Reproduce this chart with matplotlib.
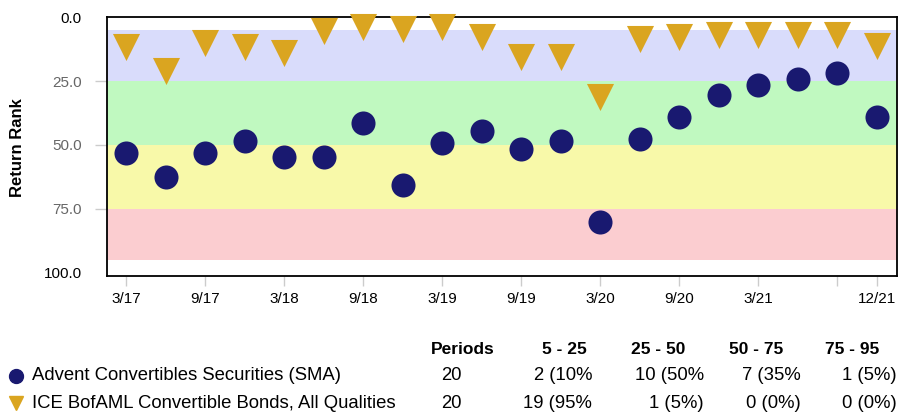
import matplotlib
matplotlib.use("Agg")
import matplotlib.pyplot as plt

plt.rcParams['font.family'] = ['Liberation Sans', 'DejaVu Sans']

# quarterly return ranks, 3/17 .. 12/21
quarters = ["3/17", "6/17", "9/17", "12/17", "3/18", "6/18", "9/18", "12/18",
            "3/19", "6/19", "9/19", "12/19", "3/20", "6/20", "9/20", "12/20",
            "3/21", "6/21", "9/21", "12/21"]
fund_rank = [53.1, 62.5, 53.1, 48.4, 54.7, 54.7, 41.4, 65.5, 49.2, 44.5,
             51.6, 48.4, 80.2, 47.6, 39.1, 30.6, 26.7, 24.3, 22.0, 39.1]
index_rank = [11.7, 20.9, 10.1, 11.7, 14.0, 5.4, 3.9, 4.7, 3.9, 7.8,
              15.6, 15.6, 31.2, 8.6, 7.8, 7.0, 7.0, 7.0, 7.0, 11.1]

# tick labels (every other quarter, last one 12/21)
tick_idx = [0, 2, 4, 6, 8, 10, 12, 14, 16, 18, 19]
tick_labels = ["3/17", "9/17", "3/18", "9/18", "3/19", "9/19", "3/20",
               "9/20", "3/21", "", "12/21"]

bands = [(5, 25, "#D9DCFB"), (25, 50, "#C0F9C0"),
         (50, 75, "#F8F9A9"), (75, 95, "#FBCDD0")]

series_names = ["Advent Convertibles Securities (SMA)",
                "ICE BofAML Convertible Bonds, All Qualities"]
col_headers = ["Periods", "5 - 25", "25 - 50", "50 - 75", "75 - 95"]
periods = ["20", "20"]
table_rows = [["2 (10%", "10 (50%", "7 (35%", "1 (5%)"],
              ["19 (95%", "1 (5%)", "0 (0%)", "0 (0%)"]]

W, H = 898, 413
fig = plt.figure(figsize=(W / 100, H / 100), dpi=100)


def fx(x):
    return x / W


def fy(y):
    return 1 - y / H


ax = fig.add_axes([fx(106.7), fy(276), fx(896.7) - fx(106.7), fy(17.3) - fy(276)])

for lo, hi, c in bands:
    ax.axhspan(lo, hi, color=c, lw=0, zorder=0)

x = list(range(len(quarters)))
ax.scatter(x, fund_rank, s=300, marker='o', color='#191970', lw=0, zorder=3,
           clip_on=False)
ax.scatter(x, index_rank, s=380, marker='v', color='#DAA520', lw=0, zorder=3,
           clip_on=False)

ax.set_xlim(-0.5, 19.5)
ax.set_ylim(101.3, 0)

ax.set_xticks(tick_idx)
ax.set_xticklabels(tick_labels, fontsize=11)
ax.tick_params(axis='x', direction='out', length=7.5, width=1, color='#CCCCCC',
               pad=4)

ax.set_yticks([0, 25, 50, 75, 100])
ax.set_yticklabels(["0.0", "25.0", "50.0", "75.0", "100.0"], fontsize=11)
ax.tick_params(axis='y', direction='out', length=9, width=1, color='#CCCCCC',
               pad=9)
for i, lab in enumerate(ax.get_yticklabels()):
    lab.set_color('black' if i in (0, 4) else '#666666')
for i, tl in enumerate(ax.yaxis.get_major_ticks()):
    if i in (0, 4):
        tl.tick1line.set_visible(False)

for sp in ax.spines.values():
    sp.set_linewidth(1.3)
    sp.set_color('black')

fig.text(fx(18), fy(147.5), "Return Rank", rotation=90, fontsize=12,
         fontweight='bold', ha='center', va='center')

# summary table under the chart
header_x = [463, 564, 658, 756, 852]
for hx, h in zip(header_x, col_headers):
    fig.text(fx(hx), fy(349), h, fontsize=12.5, fontweight='bold',
             ha='center', va='center')

row_y = [376, 403]
value_right = [592, 704, 801, 897]
markers = [('o', '#191970'), ('v', '#DAA520')]
for r in range(2):
    m, c = markers[r]
    fig.lines.append(matplotlib.lines.Line2D(
        [fx(16)], [fy(row_y[r])], marker=m, color=c, markersize=10,
        transform=fig.transFigure, ls='none'))
    fig.text(fx(32), fy(row_y[r]), series_names[r], fontsize=13.3,
             ha='left', va='center')
    fig.text(fx(451), fy(row_y[r]), periods[r], fontsize=13.3,
             ha='center', va='center')
    for vx, v in zip(value_right, table_rows[r]):
        fig.text(fx(vx), fy(row_y[r]), v, fontsize=13.3, ha='right',
                 va='center')

fig.savefig("out.png", dpi=100)
